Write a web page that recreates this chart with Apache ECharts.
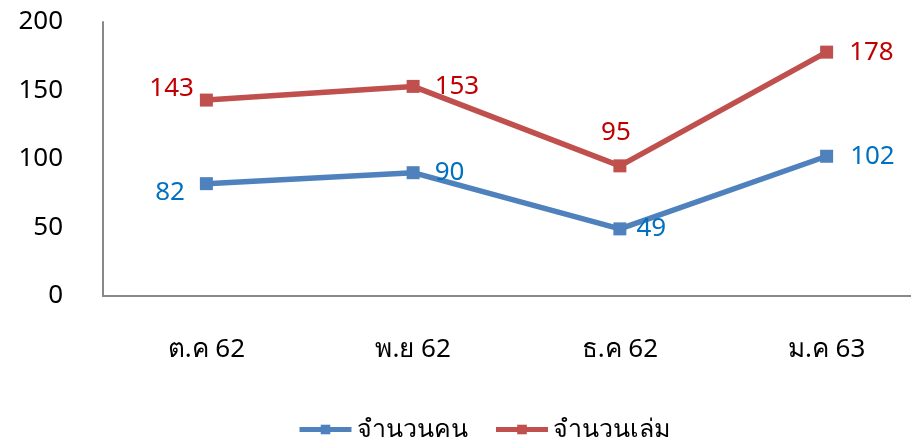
<!DOCTYPE html>
<html style="height: 100%">
<head>
	<meta charset="utf-8">
</head>
<body style="height: 100%; margin: 0; overflow: hidden">
<div id="container" style="width: 930px; height: 442px"></div>
<script type="text/javascript" src="https://cdn.jsdelivr.net/npm/echarts@6/dist/echarts.min.js"></script>
<script type="text/javascript">
    var months = ['ต.ค 62', 'พ.ย 62', 'ธ.ค 62', 'ม.ค 63'];
    var people = [82, 90, 49, 102];
    var books = [143, 153, 95, 178];
    var yTicks = [0, 50, 100, 150, 200];

    // where each value label sits relative to its point
    var peopleLabelPos = [['left', [-5, 9]], ['right', [5, 0]], ['right', [0, 0]], ['right', [7, 0]]];
    var booksLabelPos = [['left', [4, -11]], ['right', [5, 0]], ['top', [-4, -4]], ['right', [6, 0]]];

    var font = '"Noto Sans", "DejaVu Sans", sans-serif';

    function withLabels(values, pos) {
        return values.map(function (v, i) {
            return {value: v, label: {position: pos[i][0], offset: pos[i][1]}};
        });
    }

    // chart is drawn a little wider than the window, the right end of the x axis runs off the edge
    var dom = document.getElementById("container");
    var myChart = echarts.init(dom);
    var option = {
        backgroundColor: '#fff',
        animation: false,
        textStyle: {fontFamily: font},
        grid: {left: 103, right: 0, top: 22, bottom: 146},
        legend: {
            bottom: -5,
            left: 292,
            itemWidth: 52,
            itemHeight: 12,
            itemGap: 26,
            lineStyle: {width: 5},
            textStyle: {fontSize: 25, color: '#000', fontFamily: font},
            data: ['จำนวนคน', 'จำนวนเล่ม']
        },
        xAxis: {
            type: 'category',
            data: months,
            axisLine: {lineStyle: {color: '#888', width: 2}},
            axisTick: {show: false},
            axisLabel: {fontSize: 26, color: '#000', margin: 41, fontFamily: font}
        },
        yAxis: {
            type: 'value',
            min: yTicks[0],
            max: yTicks[yTicks.length - 1],
            interval: 50,
            axisLine: {show: true, lineStyle: {color: '#888', width: 2}},
            axisTick: {show: false},
            splitLine: {show: false},
            axisLabel: {fontSize: 26, color: '#000', margin: 40, fontFamily: font}
        },
        series: [{
            name: 'จำนวนคน',
            type: 'line',
            data: withLabels(people, peopleLabelPos),
            symbol: 'rect',
            symbolSize: 13,
            lineStyle: {width: 5.5, color: '#4F81BD'},
            itemStyle: {color: '#4F81BD'},
            label: {show: true, fontSize: 26, color: '#0070C0', distance: 10, fontFamily: font}
        }, {
            name: 'จำนวนเล่ม',
            type: 'line',
            data: withLabels(books, booksLabelPos),
            symbol: 'rect',
            symbolSize: 13,
            lineStyle: {width: 5.5, color: '#C0504D'},
            itemStyle: {color: '#C0504D'},
            label: {show: true, fontSize: 26, color: '#C00000', distance: 10, fontFamily: font}
        }]
    };
    myChart.setOption(option);
</script>
</body>
</html>
